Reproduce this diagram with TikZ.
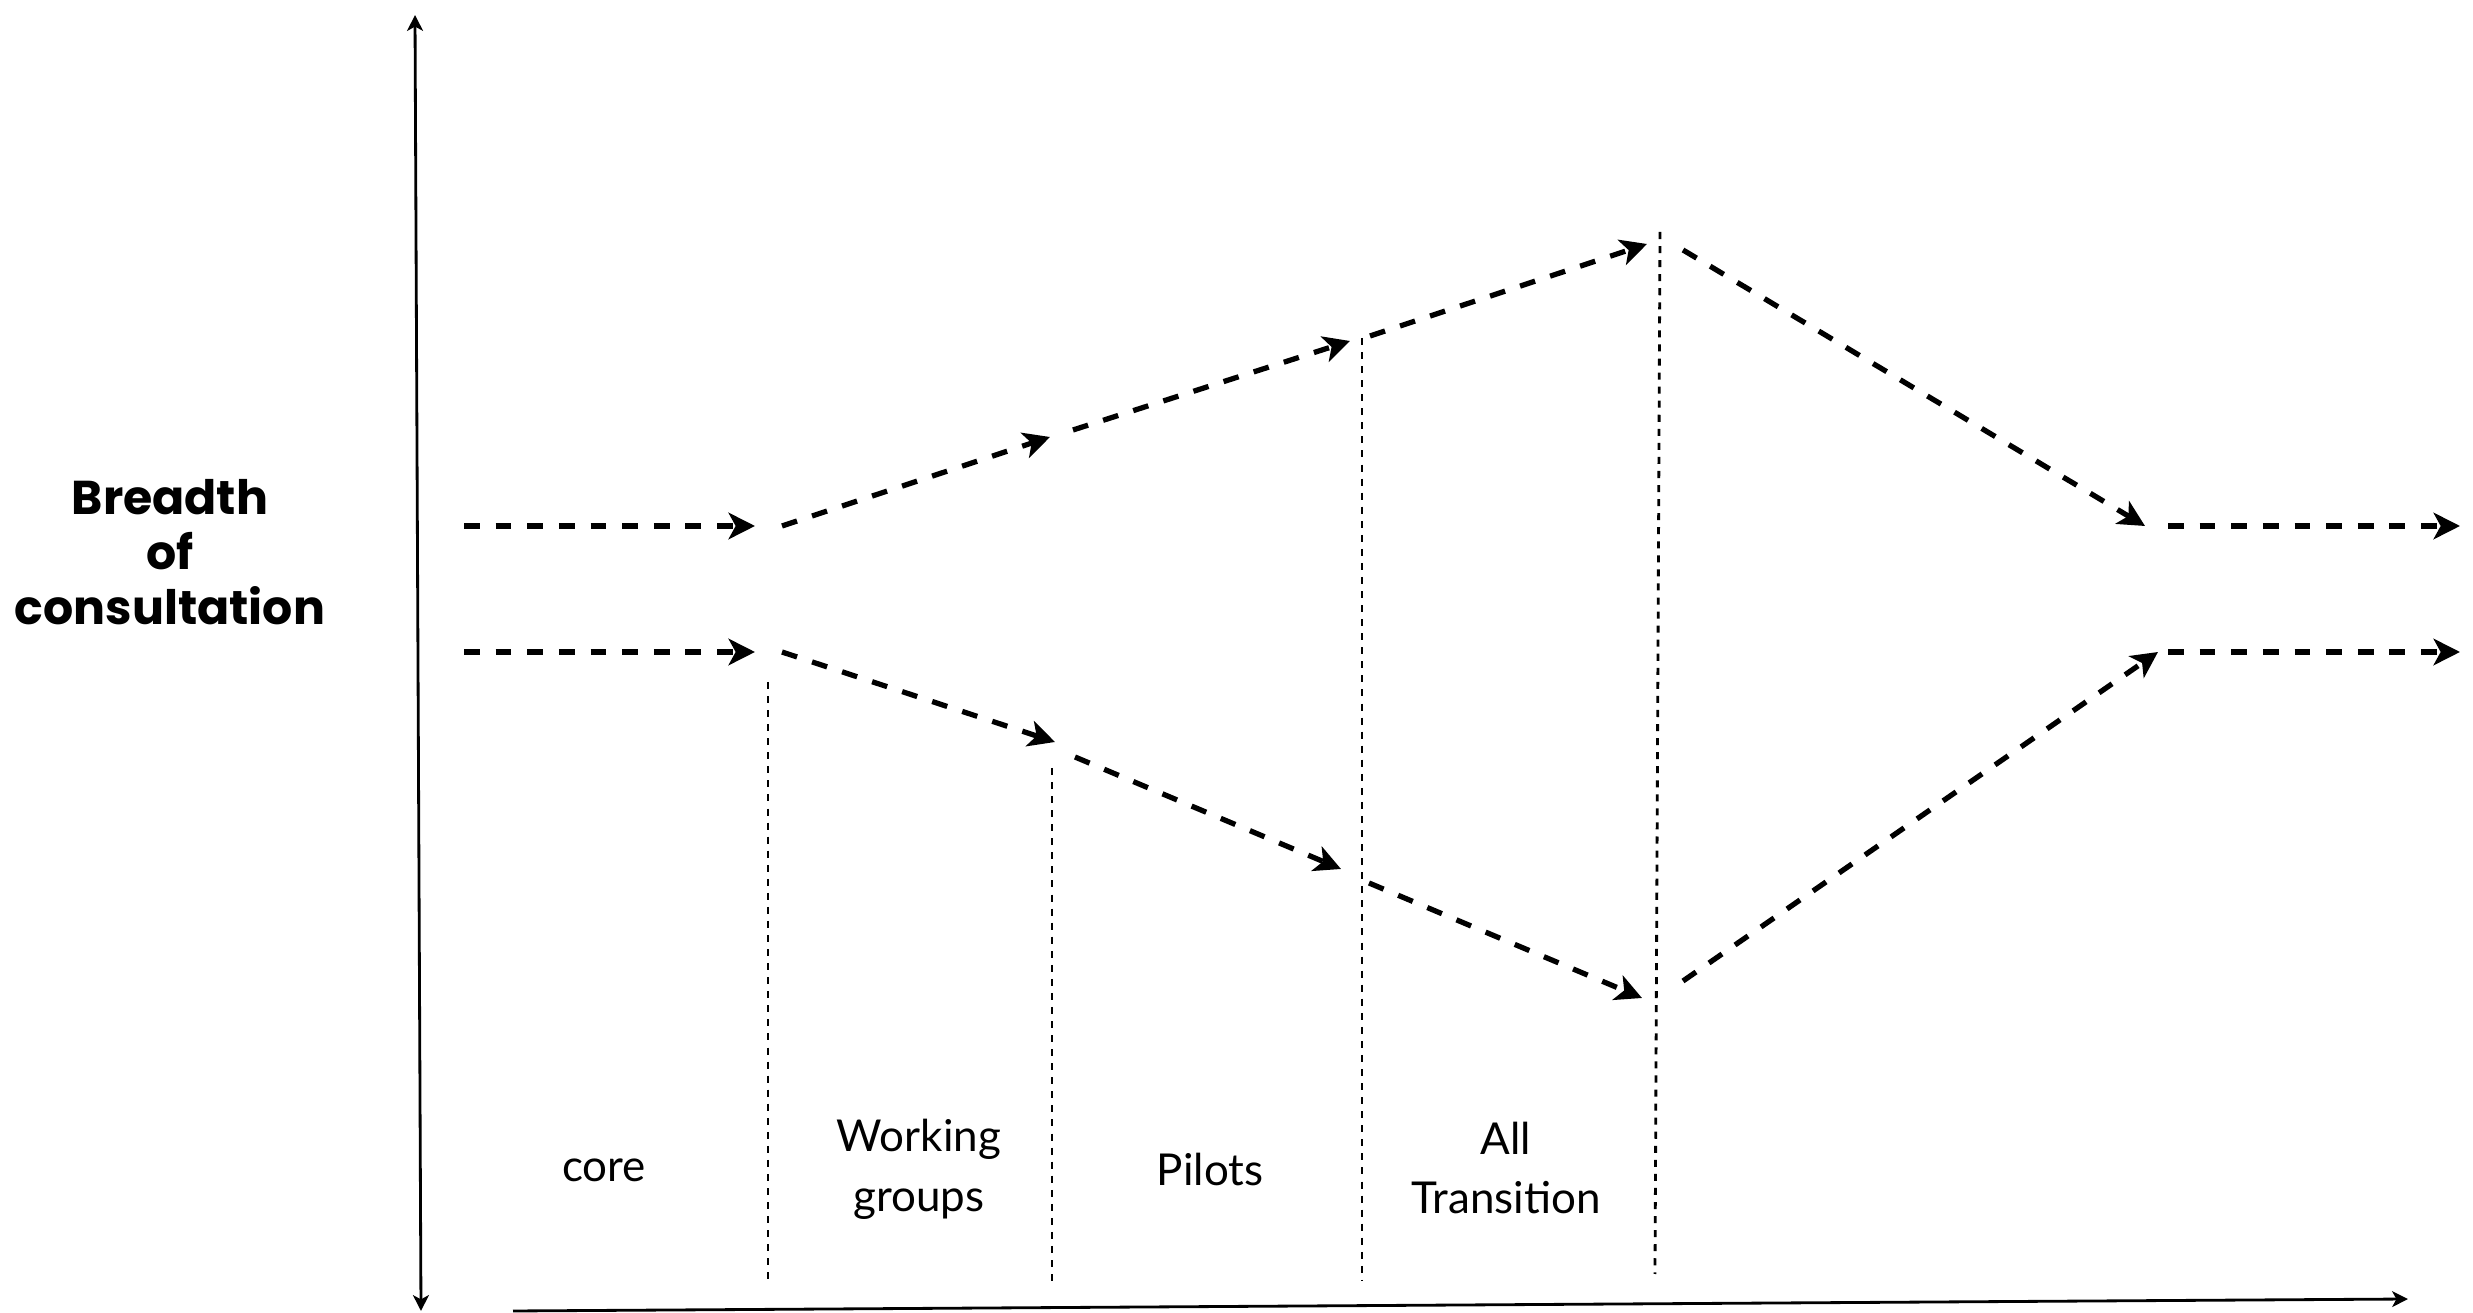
\documentclass[tikz,border=0pt]{standalone}
\usepackage{fontspec}
\setmainfont{Lato}
\newfontfamily\headfont{Poppins}
\usetikzlibrary{arrows.meta}

\begin{document}
\begin{tikzpicture}[
    flow/.style={line width=1.5pt, dash pattern=on 4.5pt off 4.5pt,
        -{Stealth[length=7.5pt, width=7.5pt, inset=2pt]}},
    guide/.style={line width=0.8pt, dash pattern=on 2pt off 2pt},
    axis/.style={line width=0.8pt, >={Stealth[length=4.5pt, width=4.5pt, inset=1.2pt]}},
    stage/.style={font=\fontsize{12.5}{17}\selectfont, align=center}
]
    \useasboundingbox (0,0) rectangle (24.73,13.13);

    % Axes
    \coordinate (ytop) at (4.15,12.98);
    \coordinate (ybot) at (4.21,0.02);
    \coordinate (xleft) at (5.13,0.02);
    \coordinate (xright) at (24.08,0.14);
    \draw[axis, <->] (ybot) -- (ytop);
    \draw[axis, ->] (xleft) -- (xright);
    \node[font=\headfont\bfseries\fontsize{13.5}{15.6}\selectfont, align=center]
        (breadth) at (1.70,7.61) {Breadth\\of\\consultation};

    % Upper track
    \coordinate (u0) at (4.64,7.87);   \coordinate (u1) at (7.55,7.87);
    \coordinate (u2) at (7.82,7.87);   \coordinate (u3) at (10.50,8.76);
    \coordinate (u4) at (10.73,8.83);  \coordinate (u5) at (13.50,9.72);
    \coordinate (u6) at (13.70,9.77);  \coordinate (u7) at (16.47,10.69);
    \coordinate (u8) at (16.83,10.63); \coordinate (u9) at (21.45,7.87);
    \coordinate (u10) at (21.68,7.87); \coordinate (u11) at (24.60,7.87);

    % Lower track
    \coordinate (l0) at (4.64,6.61);   \coordinate (l1) at (7.55,6.61);
    \coordinate (l2) at (7.82,6.61);   \coordinate (l3) at (10.55,5.71);
    \coordinate (l4) at (10.75,5.56);  \coordinate (l5) at (13.41,4.44);
    \coordinate (l6) at (13.69,4.30);  \coordinate (l7) at (16.42,3.15);
    \coordinate (l8) at (16.83,3.32);  \coordinate (l9) at (21.58,6.61);
    \coordinate (l10) at (21.68,6.61); \coordinate (l11) at (24.60,6.61);

    \foreach \a/\b in {u0/u1, u2/u3, u4/u5, u6/u7, u8/u9, u10/u11,
                       l0/l1, l2/l3, l4/l5, l6/l7, l8/l9, l10/l11} {
        \draw[flow] (\a) -- (\b);
    }

    % Stage dividers
    \coordinate (d1t) at (7.68,6.31);   \coordinate (d1b) at (7.68,0.32);
    \coordinate (d2t) at (10.52,5.45);  \coordinate (d2b) at (10.52,0.28);
    \coordinate (d3t) at (13.62,9.75);  \coordinate (d3b) at (13.62,0.32);
    \coordinate (d4t) at (16.60,10.81); \coordinate (d4b) at (16.55,0.39);
    \foreach \i in {1,...,4} {
        \draw[guide] (d\i t) -- (d\i b);
    }

    % Stage labels
    \node[stage] (core) at (6.04,1.43) {core};
    \node[stage] (groups) at (9.19,1.44) {Working\\groups};
    \node[stage] (pilots) at (12.10,1.44) {Pilots};
    \node[stage] (transition) at (15.06,1.45) {All\\Transition};
\end{tikzpicture}
\end{document}
